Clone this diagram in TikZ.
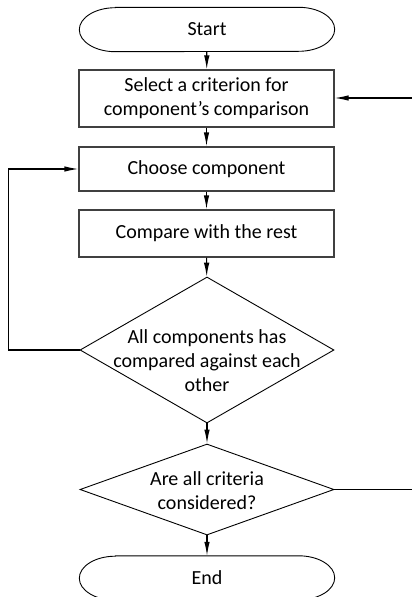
\documentclass[tikz,border=0pt]{standalone}
\usepackage{fontspec}
\setmainfont{Carlito}
\usetikzlibrary{arrows.meta,shapes.geometric,calc}
\tikzset{
  >={Latex[length=14pt,width=5.5pt]},
  box/.style={draw=black!75,line width=1.2pt,minimum width=255pt,
    minimum height=#1,align=center,inner sep=2pt},
  box/.default=44pt,
  decision/.style={diamond,draw,line width=0.9pt,minimum width=254pt,
    minimum height=#1,inner sep=0pt},
  question/.style={align=center,inner sep=0pt},
  terminal/.style={minimum width=255pt,minimum height=44pt,inner sep=0pt},
  flow/.style={->,line width=1.2pt},
}
% rounded ends of the start/end shapes
\newcommand\drawterm[1]{%
  \draw[line width=0.9pt] ($(#1.north west)+(36,0)$) -- ($(#1.north east)+(-36,0)$)
    arc[start angle=90,end angle=-90,x radius=36pt,y radius=22pt]
    -- ($(#1.south west)+(36,0)$)
    arc[start angle=270,end angle=90,x radius=36pt,y radius=22pt] -- cycle;}

\begin{document}
\begin{tikzpicture}[x=1pt,y=1pt,font=\fontsize{20}{24}\selectfont]
  \useasboundingbox (0,0) rectangle (412,-597);
  \node[terminal] (start) at (207,-29.5) {Start};
  \drawterm{start}
  \node[box=57pt] (crit) at (206.5,-98.5) {Select a criterion for\\component’s comparison};
  \node[box] (choose) at (206.5,-169) {Choose component};
  \node[box=47pt] (cmp) at (206.5,-233.5) {Compare with the rest};
  \node[decision=146pt,label={[question,yshift=-11pt]center:All components has\\compared against each\\other}] (allcmp) at (207,-350) {};
  \node[decision=91pt,label={[question,yshift=-1.5pt]center:Are all criteria\\considered?}] (allcrit) at (207,-489.5) {};
  \node[terminal] (end) at (207,-578) {End};
  \drawterm{end}
  \coordinate (critin) at (412,-98);
  \coordinate (critout) at (412,-489.5);

  \draw[flow] (start) -- (crit);
  \draw[flow] (crit) -- (choose);
  \draw[flow] (choose) -- (cmp);
  \draw[flow] (cmp) -- (allcmp);
  \draw[flow] (allcmp) -- (allcrit);
  \draw[flow] (allcrit) -- (end);
  \draw[flow] (critin) -- (crit.east |- critin);
  \draw[flow] (allcmp.west) -- ++(-71,0) |- (choose.west);
  \draw[line width=1.2pt] (allcrit.east) -- (critout);
\end{tikzpicture}
\end{document}
